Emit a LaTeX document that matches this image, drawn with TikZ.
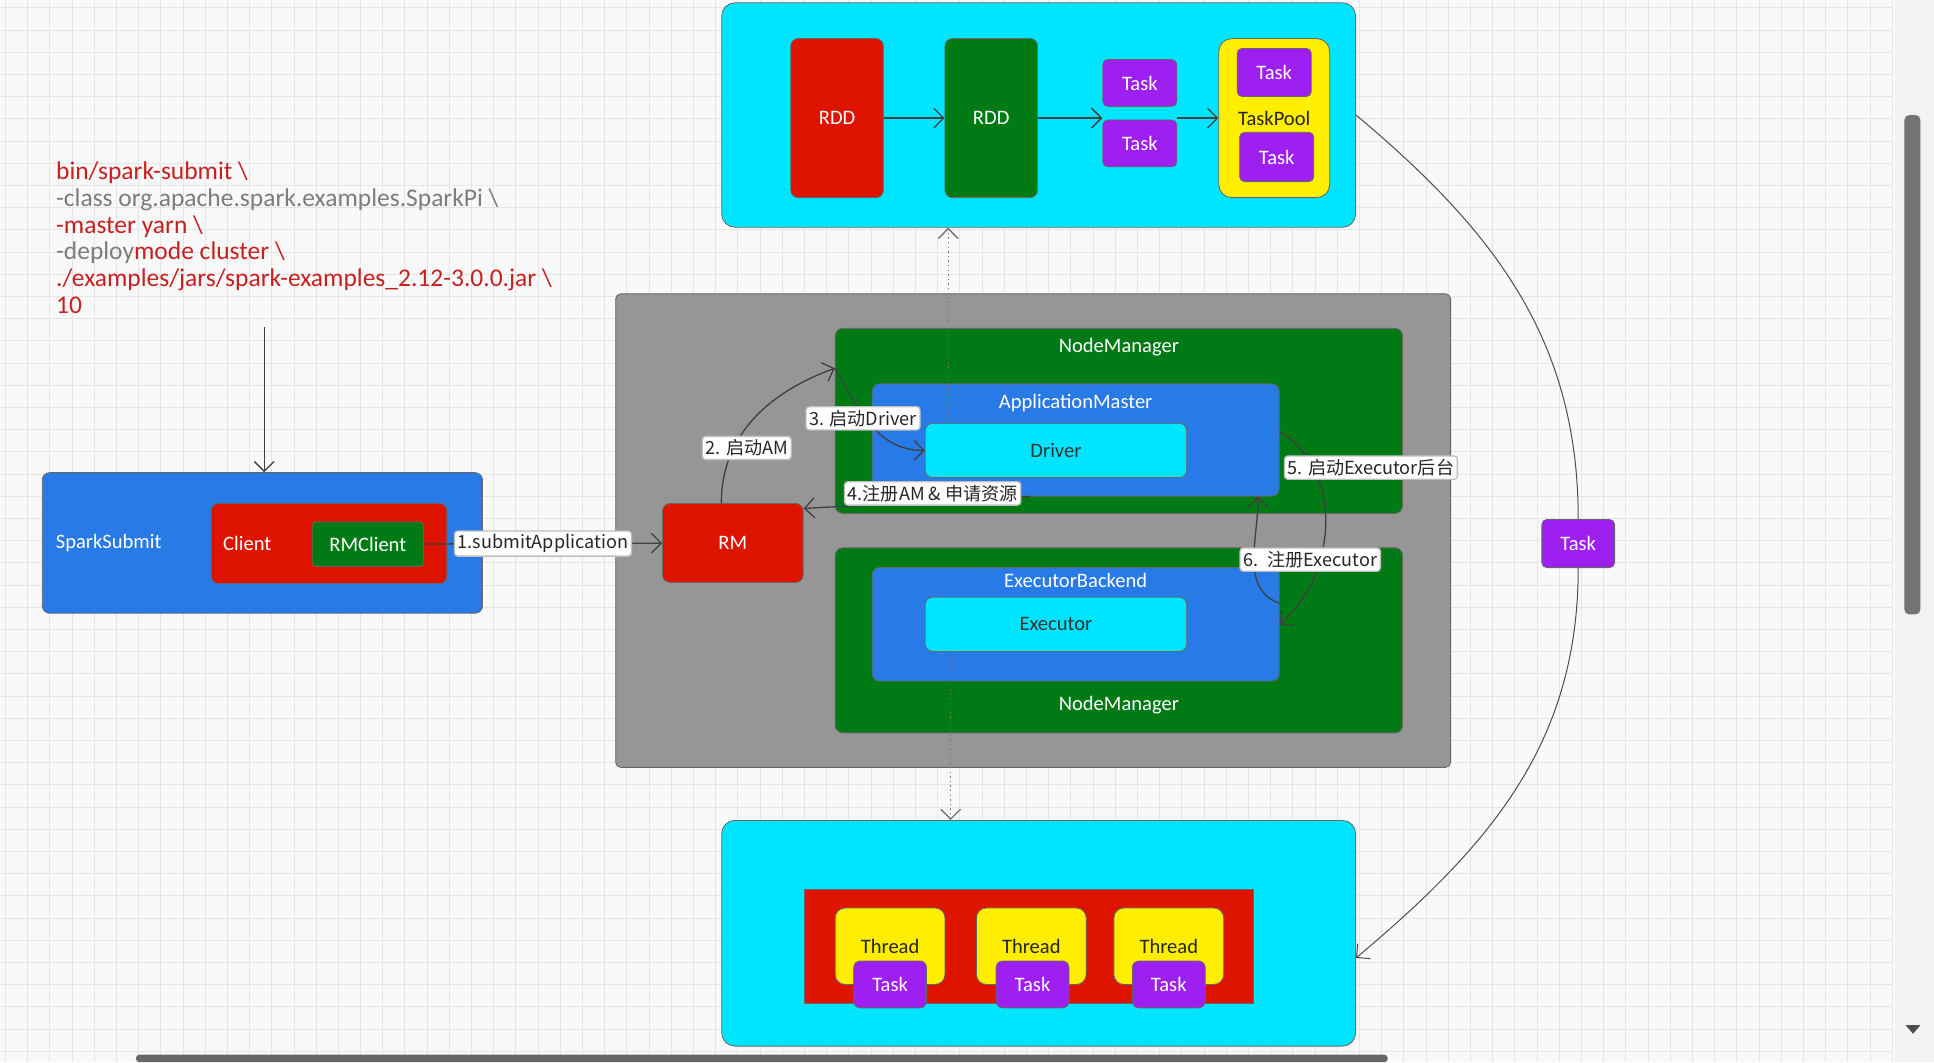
\documentclass[tikz,border=0pt]{standalone}
\usepackage{fontspec}
\setmainfont{Carlito}
\newfontfamily\cjk{Noto Sans CJK SC}
\usetikzlibrary{arrows.meta}

\definecolor{cyanbox}{RGB}{0,229,255}
\definecolor{redbox}{RGB}{222,20,0}
\definecolor{greenbox}{RGB}{0,122,20}
\definecolor{bluebox}{RGB}{40,122,230}
\definecolor{purplebox}{RGB}{158,32,240}
\definecolor{yellowbox}{RGB}{255,238,0}
\definecolor{graybox}{RGB}{150,150,150}
\definecolor{codered}{RGB}{200,32,32}
\definecolor{codegray}{RGB}{125,125,125}
\definecolor{paper}{RGB}{249,249,249}
\definecolor{gridline}{RGB}{229,229,229}

\tikzset{
  box/.style={draw=black!60, line width=0.5pt, rounded corners=4.5pt, inner sep=0pt, text=white, font=\fontsize{12.5}{14}\selectfont},
  sz/.style 2 args={minimum width=#1*0.75pt, minimum height=#2*0.75pt},
  tag/.style={text=white, font=\fontsize{12.5}{14}\selectfont},
  lbl/.style={fill=white, draw=black!25, rounded corners=2pt, inner sep=2pt, text=black!85, font=\cjk\fontsize{11}{12}\selectfont},
  arr/.style={draw=black!75, line width=0.8pt, -{Straight Barb[length=6pt,width=12pt]}},
  dotarr/.style={arr, draw=black!55, dotted},
  curve/.style={draw=black!70, line width=0.6pt},
}

\begin{document}
\begin{tikzpicture}[x=0.75pt, y=-0.75pt]
    % canvas
    \fill[paper] (0,0) rectangle (1568,861);
    \foreach \gx in {4,22,...,1535} \draw[gridline, line width=0.4pt] (\gx,0) -- (\gx,861);
    \foreach \gy in {6,24,...,861} \draw[gridline, line width=0.4pt] (0,\gy) -- (1535,\gy);
    \fill[black!5] (1536,0) rectangle (1568,861);
    \fill[black!55, rounded corners=3pt] (1544,93) rectangle (1557,498);
    \fill[black!60, rounded corners=2pt] (110,855) rectangle (1125,861);
    \fill[black!70] (1545,831) -- (1557,831) -- (1551,838) -- cycle;
    \useasboundingbox (0,0) rectangle (1568,861);

    % command
    \node[anchor=north west, align=left, inner sep=0pt, font=\fontsize{15.5}{16.2}\selectfont] (cmd) at (45,131)
        {\textcolor{codered}{bin/spark-submit \textbackslash}\\
         \textcolor{codegray}{-class org.apache.spark.examples.SparkPi \textbackslash}\\
         \textcolor{codered}{-master yarn \textbackslash}\\
         \textcolor{codegray}{-deploy}\textcolor{codered}{mode cluster \textbackslash}\\
         \textcolor{codered}{./examples/jars/spark-examples\_2.12-3.0.0.jar \textbackslash}\\
         \textcolor{codered}{10}};

    % client side
    \node[box, fill=bluebox, sz={357}{114}, label={[tag, anchor=west, xshift=5pt]west:SparkSubmit}] (submit) at (212.5,440) {};
    \node[box, fill=redbox, sz={191}{65}, label={[tag, anchor=west, xshift=4pt]west:Client}] (client) at (266.5,440.5) {};
    \node[box, fill=greenbox, sz={90}{36}, rounded corners=2pt] (rmclient) at (298,441) {RMClient};
    \coordinate (cmdend) at (214,265);
    \draw[arr] (cmdend) -- (cmdend |- submit.north);

    % yarn cluster
    \node[box, fill=graybox, sz={677}{384}, rounded corners=3pt] (yarn) at (837.5,430) {};
    \node[box, fill=redbox, sz={114}{64}] (rm) at (594,440) {RM};
    \node[box, fill=greenbox, sz={460}{150}, label={[tag, anchor=north, yshift=-3pt]north:NodeManager}] (nma) at (907,341) {};
    \node[box, fill=bluebox, sz={330}{91}, label={[tag, anchor=north, yshift=-3pt]north:ApplicationMaster}] (am) at (872,356.5) {};
    \node[box, fill=cyanbox, text=black!80, sz={212}{44}] (driver) at (856,365) {Driver};
    \node[box, fill=greenbox, sz={460}{150}, label={[tag, anchor=south, yshift=8pt]south:NodeManager}] (nmb) at (907,519) {};
    \node[box, fill=bluebox, sz={330}{92}, label={[tag, anchor=north, yshift=0pt]north:ExecutorBackend}] (eb) at (872,506) {};
    \node[box, fill=cyanbox, text=black!80, sz={212}{44}] (executor) at (856,506) {Executor};

    % stage
    \node[box, fill=cyanbox, sz={514}{182}, rounded corners=8pt] (stage) at (842,93) {};
    \node[box, fill=redbox, sz={75}{129}] (rdda) at (678.5,95.5) {RDD};
    \node[box, fill=greenbox, sz={75}{129}] (rddb) at (803.5,95.5) {RDD};
    \node[box, fill=purplebox, sz={60}{38}, rounded corners=3pt] (taska) at (924,67) {Task};
    \node[box, fill=purplebox, sz={60}{38}, rounded corners=3pt] (taskb) at (924,116) {Task};
    \node[box, fill=yellowbox, text=black!85, sz={90}{129}, rounded corners=8pt] (pool) at (1033,95.5) {TaskPool};
    \node[box, fill=purplebox, sz={60}{39}, rounded corners=3pt] (poola) at (1033,58.5) {Task};
    \node[box, fill=purplebox, sz={60}{40}, rounded corners=3pt] (poolb) at (1035,127) {Task};
    \draw[arr] (rdda) -- (rddb);
    \draw[arr] (rddb.east) -- (rddb.east -| taska.west);
    \draw[arr] (taska.east |- rddb.east) -- (pool.west |- rddb.east);

    % executor side
    \node[box, fill=cyanbox, sz={514}{183}, rounded corners=8pt] (execbox) at (842,756.5) {};
    \node[box, fill=redbox, sz={364}{92}, rounded corners=0pt] (threads) at (834,767) {};
    \node[box, fill=yellowbox, text=black!85, sz={89}{62}, rounded corners=6pt] (thra) at (721.5,767) {Thread};
    \node[box, fill=yellowbox, text=black!85, sz={89}{62}, rounded corners=6pt] (thrb) at (836,767) {Thread};
    \node[box, fill=yellowbox, text=black!85, sz={89}{62}, rounded corners=6pt] (thrc) at (947.5,767) {Thread};
    \node[box, fill=purplebox, sz={59}{38}, rounded corners=4pt] (tska) at (721.5,798) {Task};
    \node[box, fill=purplebox, sz={59}{38}, rounded corners=4pt] (tskb) at (837,798) {Task};
    \node[box, fill=purplebox, sz={59}{38}, rounded corners=4pt] (tskc) at (947.5,798) {Task};

    \node[box, fill=purplebox, sz={59}{39}, rounded corners=3pt] (ftask) at (1279.5,440.5) {Task};

    % steps
    \draw[arr] (rmclient) -- (rm) node[lbl, midway] {1.submitApplication};
    \coordinate (amin) at ([yshift=32pt]nma.west);
    \draw[arr] ([xshift=-7pt]rm.north) to[out=90,in=200] node[lbl, pos=0.3, xshift=8pt] {2. 启动AM} (amin);
    \draw[arr] (amin) to[out=-60,in=180] node[lbl, pos=0.4, yshift=-2pt] {3. 启动Driver} (driver.west);
    \draw[arr] ([xshift=-27.75pt]am.south) -- ([yshift=21pt]rm.east) node[lbl, pos=0.43, yshift=5pt] {4.注册AM \& 申请资源};
    \draw[arr] ([yshift=5pt]am.east) to[out=-30,in=40] node[lbl, pos=0.25, anchor=west, xshift=-19pt, yshift=2pt] {5. 启动Executor后台} (eb.east);
    \draw[arr] ([yshift=-22pt]eb.north east) to[out=160,in=-90] node[lbl, pos=0.45, anchor=west, xshift=-9pt, yshift=4pt] {6.\enspace 注册Executor} ([xshift=-13pt]am.south east);

    % task flow
    \coordinate (upfoot) at ([xshift=14.25pt]driver.north west);
    \draw[dotarr] (upfoot) -- (upfoot |- stage.south);
    \coordinate (downfoot) at ([xshift=15.75pt]executor.south west);
    \draw[dotarr] (downfoot) -- (downfoot |- execbox.north);
    \draw[curve] (stage.east) to[out=-40,in=90] (ftask.north);
    \draw[arr, curve] (ftask.south) to[out=-90,in=40] ([yshift=-15pt]execbox.east);
\end{tikzpicture}
\end{document}
